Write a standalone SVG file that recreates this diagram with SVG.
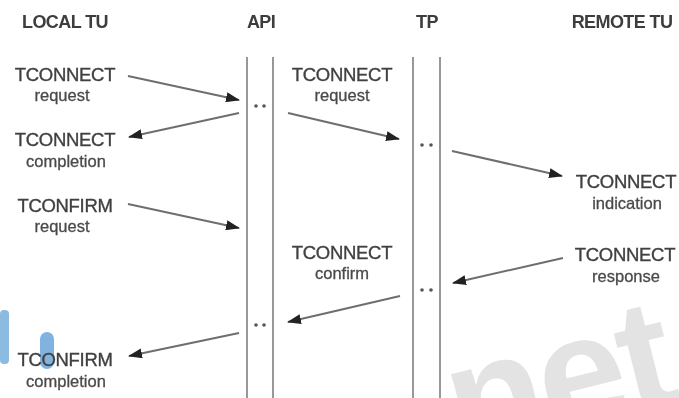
<svg xmlns="http://www.w3.org/2000/svg" width="679" height="398" viewBox="0 0 679 398">
  <style>
    .hdr { font-family: "Liberation Sans", Arial, sans-serif; font-weight: bold; font-size: 18px; fill: #3c3c3c; text-anchor: middle; letter-spacing: -0.6px; }
    .prim { font-family: "Liberation Sans", Arial, sans-serif; font-size: 18.5px; fill: #404040; stroke: #404040; stroke-width: 0.35; text-anchor: middle; letter-spacing: -0.3px; }
    .sub { font-family: "Liberation Sans", Arial, sans-serif; font-size: 16.5px; fill: #4a4a4a; stroke: #4a4a4a; stroke-width: 0.3; text-anchor: middle; letter-spacing: 0px; }
    .life { stroke: #7e7e7e; stroke-width: 1.6; fill: none; }
    .msg { stroke: #6e6e6e; stroke-width: 2; fill: none; marker-end: url(#head); }
    .dot { fill: #555; }
  </style>
  <defs>
    <marker id="head" viewBox="0 0 14 10" refX="13" refY="5" markerWidth="14" markerHeight="10" markerUnits="userSpaceOnUse" orient="auto">
      <path d="M0,0 L14,5 L0,10 z" fill="#222"/>
    </marker>
    <filter id="soft" x="-5%" y="-5%" width="110%" height="110%">
      <feGaussianBlur stdDeviation="0.6"/>
    </filter>
  </defs>

  <rect width="679" height="398" fill="#ffffff"/>

  <!-- background watermark -->
  <g id="watermark">
    <text x="450" y="432" fill="#e3e3e3" font-family="Liberation Sans, Arial, sans-serif" font-weight="bold" font-size="158" letter-spacing="-4" transform="rotate(-14 560 400)">net</text>
    <rect x="0" y="310" width="9" height="54" rx="4" fill="#8cbbe2"/>
    <rect x="40" y="332" width="14" height="37" rx="7" fill="#80b3df"/>
  </g>

  <g filter="url(#soft)">
    <!-- column headings -->
    <g id="heading-local"><text class="hdr" x="65" y="28">LOCAL TU</text></g>
    <g id="heading-api"><text class="hdr" x="261" y="28">API</text></g>
    <g id="heading-tp"><text class="hdr" x="427" y="28">TP</text></g>
    <g id="heading-remote"><text class="hdr" x="622" y="28">REMOTE TU</text></g>

    <!-- API and TP boundaries -->
    <g id="api">
      <line class="life" x1="247" y1="57" x2="247" y2="398"/>
      <line class="life" x1="273" y1="57" x2="273" y2="398"/>
      <circle class="dot" cx="256" cy="106" r="1.8"/>
      <circle class="dot" cx="264" cy="106" r="1.8"/>
      <circle class="dot" cx="256" cy="325" r="1.8"/>
      <circle class="dot" cx="264" cy="325" r="1.8"/>
    </g>
    <g id="tp">
      <line class="life" x1="413" y1="57" x2="413" y2="398"/>
      <line class="life" x1="440" y1="57" x2="440" y2="398"/>
      <circle class="dot" cx="422" cy="145" r="1.8"/>
      <circle class="dot" cx="431" cy="145" r="1.8"/>
      <circle class="dot" cx="422" cy="290" r="1.8"/>
      <circle class="dot" cx="431" cy="290" r="1.8"/>
    </g>

    <!-- primitive labels -->
    <g id="local-connect-request">
      <text class="prim" x="65" y="81">TCONNECT</text>
      <text class="sub" x="62" y="101">request</text>
    </g>
    <g id="local-connect-completion">
      <text class="prim" x="65" y="146">TCONNECT</text>
      <text class="sub" x="66" y="167">completion</text>
    </g>
    <g id="local-confirm-request">
      <text class="prim" x="65" y="212">TCONFIRM</text>
      <text class="sub" x="62" y="232">request</text>
    </g>
    <g id="local-confirm-completion">
      <text class="prim" x="65" y="366">TCONFIRM</text>
      <text class="sub" x="66" y="387">completion</text>
    </g>
    <g id="api-connect-request">
      <text class="prim" x="342" y="81">TCONNECT</text>
      <text class="sub" x="342" y="101">request</text>
    </g>
    <g id="api-connect-confirm">
      <text class="prim" x="342" y="259">TCONNECT</text>
      <text class="sub" x="342" y="279">confirm</text>
    </g>
    <g id="remote-connect-indication">
      <text class="prim" x="626" y="188">TCONNECT</text>
      <text class="sub" x="627" y="209">indication</text>
    </g>
    <g id="remote-connect-response">
      <text class="prim" x="625" y="261">TCONNECT</text>
      <text class="sub" x="626" y="282">response</text>
    </g>

    <!-- message arrows -->
    <g id="connectors">
      <line class="msg" x1="128" y1="76" x2="239" y2="100"/>
      <line class="msg" x1="239" y1="113" x2="129" y2="137"/>
      <line class="msg" x1="288" y1="113" x2="399" y2="139"/>
      <line class="msg" x1="452" y1="151" x2="562" y2="176"/>
      <line class="msg" x1="128" y1="204" x2="239" y2="228"/>
      <line class="msg" x1="563" y1="258" x2="453" y2="283"/>
      <line class="msg" x1="400" y1="296" x2="288" y2="322"/>
      <line class="msg" x1="239" y1="333" x2="129" y2="356"/>
    </g>
  </g>
</svg>
